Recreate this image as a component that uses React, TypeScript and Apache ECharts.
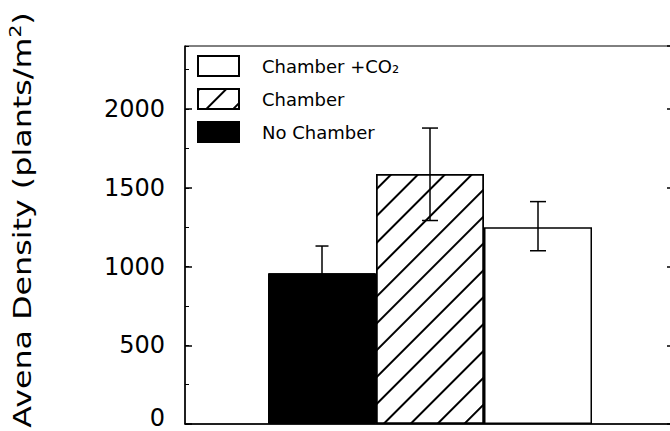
import React, { useEffect, useRef } from 'react';
import * as echarts from 'echarts';

// ---- data ----
const treatments = ['No Chamber', 'Chamber', 'Chamber +CO₂'];
const density = [958, 1588, 1250];
const errLow = [790, 1292, 1100];
const errHigh = [1130, 1879, 1412];
const legendOrder = ['Chamber +CO₂', 'Chamber', 'No Chamber'];
const yTitle = 'Avena Density (plants/m';
const yTitleSup = '2';

const FONT = 'DejaVu Sans';
const BAR_W = 108;

const barStyles: any[] = [
  { color: '#000', borderColor: '#000', borderWidth: 1 },
  {
    color: '#fff',
    borderColor: '#000',
    borderWidth: 1.5,
    decal: {
      symbol: 'rect',
      symbolSize: 1,
      dashArrayX: [1, 0],
      dashArrayY: [1.5, 17],
      rotation: -Math.PI / 4,
      color: '#000',
    },
  },
  { color: '#fff', borderColor: '#000', borderWidth: 1.5 },
];

export default function App() {
  const ref = useRef<HTMLDivElement>(null);
  useEffect(() => {
    document.body.style.margin = '0';
    document.body.style.overflow = 'hidden';
    const chart = echarts.init(ref.current!, null, { renderer: 'svg' });
    const axisColor = '#000';
    const option: any = {
      animation: false,
      backgroundColor: '#fff',
      grid: { left: 185, right: 5, top: 46, bottom: 7, show: true, borderColor: '#000', borderWidth: 1 },
      legend: {
        data: legendOrder,
        orient: 'vertical',
        left: 197,
        top: 55,
        padding: 0,
        itemWidth: 41,
        itemHeight: 20,
        itemGap: 11,
        icon: 'rect',
        textStyle: { fontFamily: FONT, fontSize: 18, color: '#000', padding: [0, 0, 0, 18] },
      },
      xAxis: {
        type: 'category',
        data: [''],
        position: 'bottom',
        axisLine: { show: true, lineStyle: { color: axisColor, width: 1.5 } },
        axisTick: { show: false },
        axisLabel: { show: false },
        splitLine: { show: false },
      },
      yAxis: [
        {
          type: 'value',
          min: 0,
          max: 2400,
          interval: 500,
          position: 'left',
          axisLine: { show: true, lineStyle: { color: axisColor, width: 1.5 } },
          axisTick: { show: true, inside: true, length: 7, lineStyle: { color: axisColor, width: 1.5 } },
          axisLabel: {
            color: '#000',
            fontSize: 24,
            fontFamily: FONT,
            margin: 20,
            showMaxLabel: false,
            formatter: (v: number) => (v === 0 ? '{z|0}' : String(v)),
            rich: { z: { fontSize: 24, fontFamily: FONT, color: '#000', padding: [0, 0, 12, 0] } },
          },
          splitLine: { show: false },
        },
        {
          type: 'value',
          min: 0,
          max: 2400,
          interval: 250,
          position: 'left',
          offset: 0,
          axisLine: { show: false },
          axisTick: { show: true, inside: true, length: 4, lineStyle: { color: axisColor, width: 1 } },
          axisLabel: { show: false },
          splitLine: { show: false },
        },
        {
          type: 'value',
          min: 0,
          max: 2400,
          interval: 500,
          position: 'right',
          axisLine: { show: false },
          axisTick: { show: true, inside: true, length: 8, lineStyle: { color: axisColor, width: 1.5 } },
          axisLabel: { show: false },
          splitLine: { show: false },
        },
      ],
      series: [
        ...treatments.map((name, i) => ({
          type: 'bar',
          name,
          data: [density[i]],
          barWidth: BAR_W,
          barGap: '0%',
          yAxisIndex: 0,
          itemStyle: barStyles[i],
        })),
        {
          type: 'custom',
          yAxisIndex: 0,
          z: 10,
          data: treatments.map((_, i) => [0, errLow[i], errHigh[i], i]),
          renderItem: (params: any, api: any) => {
            const i = api.value(3);
            const hi = api.coord([api.value(0), api.value(2)]);
            const lo = api.coord([api.value(0), api.value(1)]);
            const x = hi[0] + (i - 1) * BAR_W;
            const hw = i === 0 ? 6.5 : 8;
            const st = { stroke: '#000', lineWidth: 1.5 };
            return {
              type: 'group',
              children: [
                { type: 'line', shape: { x1: x, y1: hi[1], x2: x, y2: lo[1] }, style: st },
                { type: 'line', shape: { x1: x - hw, y1: hi[1], x2: x + hw, y2: hi[1] }, style: st },
                { type: 'line', shape: { x1: x - hw, y1: lo[1], x2: x + hw, y2: lo[1] }, style: st },
              ],
            };
          },
        },
      ],
      graphic: [
        {
          type: 'text',
          x: 22,
          y: 220,
          rotation: Math.PI / 2,
          scaleX: 1.27,
          style: {
            text: '{a|' + yTitle + '}{s|' + yTitleSup + '}{a|)}',
            align: 'center',
            verticalAlign: 'middle',
            rich: {
              a: { fontSize: 25, fontFamily: FONT, fill: '#000', lineHeight: 30 },
              s: { fontSize: 16, fontFamily: FONT, fill: '#000', lineHeight: 16, verticalAlign: 'top' },
            },
          },
        },
      ],
    };
    chart.setOption(option);
    return () => chart.dispose();
  }, []);
  return <div ref={ref} style={{ width: 680, height: 431 }} />;
}
